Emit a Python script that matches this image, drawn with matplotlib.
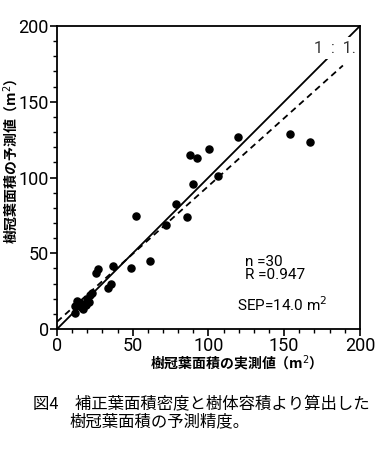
import matplotlib.pyplot as plt
import numpy as np

plt.rcParams['font.family'] = ['Noto Sans CJK JP', 'DejaVu Sans']
narrow = ['Roboto', 'DejaVu Sans']

# measured vs predicted crown leaf area (m2)
measured = [11.9, 13.4, 17.4, 21.3, 21.8, 12.0, 15.0, 16.0, 19.0, 20.0, 23.0,
            25.5, 27.3, 33.9, 35.6, 37.2, 48.8, 51.9, 61.4, 72.2, 78.5, 86.1,
            90.0, 87.8, 92.2, 100.1, 106.3, 119.5, 154.0, 167.4]
predicted = [10.8, 18.5, 13.0, 18.0, 22.4, 15.0, 17.0, 14.5, 16.0, 20.0, 24.0,
             36.8, 39.4, 26.8, 29.5, 41.6, 40.0, 74.8, 44.6, 68.8, 82.6, 73.8,
             95.7, 114.6, 113.1, 119.0, 101.0, 126.5, 128.9, 123.6]

reg_intercept = 4.8
reg_slope = 0.896
reg_xmax = 188.8

stats_lines = ['n =30', 'R =0.947']
sep_text = 'SEP=14.0 m$^2$'

fig = plt.figure(figsize=(3.8, 4.57), dpi=100)
ax = fig.add_axes([0.15, 0.28, 0.797, 0.663])

# 1:1 line
ax.plot([0, 200], [0, 200], color='black', lw=1.3, zorder=2)
# regression line
xr = np.array([0, reg_xmax])
ax.plot(xr, reg_intercept + reg_slope * xr, color='black', lw=1.3,
        dashes=(3.5, 2.5), zorder=2)

ax.scatter(measured, predicted, s=26, color='black', zorder=3)

ax.text(197.5, 185.5, '1  :  1.', ha='right', va='center', fontsize=11.5,
        family=narrow, color='#333333',
        bbox=dict(facecolor='white', edgecolor='none', pad=2.5), zorder=2.2)

ax.text(124, 40, stats_lines[0] + '\n' + stats_lines[1], fontsize=11,
        family=narrow, ha='left', va='center', linespacing=0.9)
ax.text(119, 16, sep_text, fontsize=11, family=narrow, ha='left', va='center')

ax.set_xlim(0, 200)
ax.set_ylim(0, 200)
ax.set_xticks([0, 50, 100, 150, 200])
ax.set_yticks([0, 50, 100, 150, 200])
ax.set_xticks(np.arange(0, 201, 10), minor=True)
ax.set_yticks(np.arange(0, 201, 10), minor=True)
ax.tick_params(which='major', direction='out', length=5, width=1.2, labelsize=13, pad=1)
ax.tick_params(which='minor', direction='out', length=3, width=1.0)
for lab in ax.get_xticklabels() + ax.get_yticklabels():
    lab.set_family(narrow)
for s in ax.spines.values():
    s.set_linewidth(1.3)

ax.set_xlabel('樹冠葉面積の実測値（m$^2$）', fontsize=10, fontweight='bold', va='center')
ax.set_ylabel('樹冠葉面積の予測値（m$^2$）', fontsize=10, fontweight='bold', va='center')
ax.xaxis.set_label_coords(0.58, -0.115)
ax.yaxis.set_label_coords(-0.155, 0.555)

fig.text(0.087, 0.114, '図4　補正葉面積密度と樹体容積より算出した', fontsize=11.8, va='center')
fig.text(0.184, 0.077, '樹冠葉面積の予測精度。', fontsize=11.8, va='center')

fig.savefig('out.png', dpi=100)
